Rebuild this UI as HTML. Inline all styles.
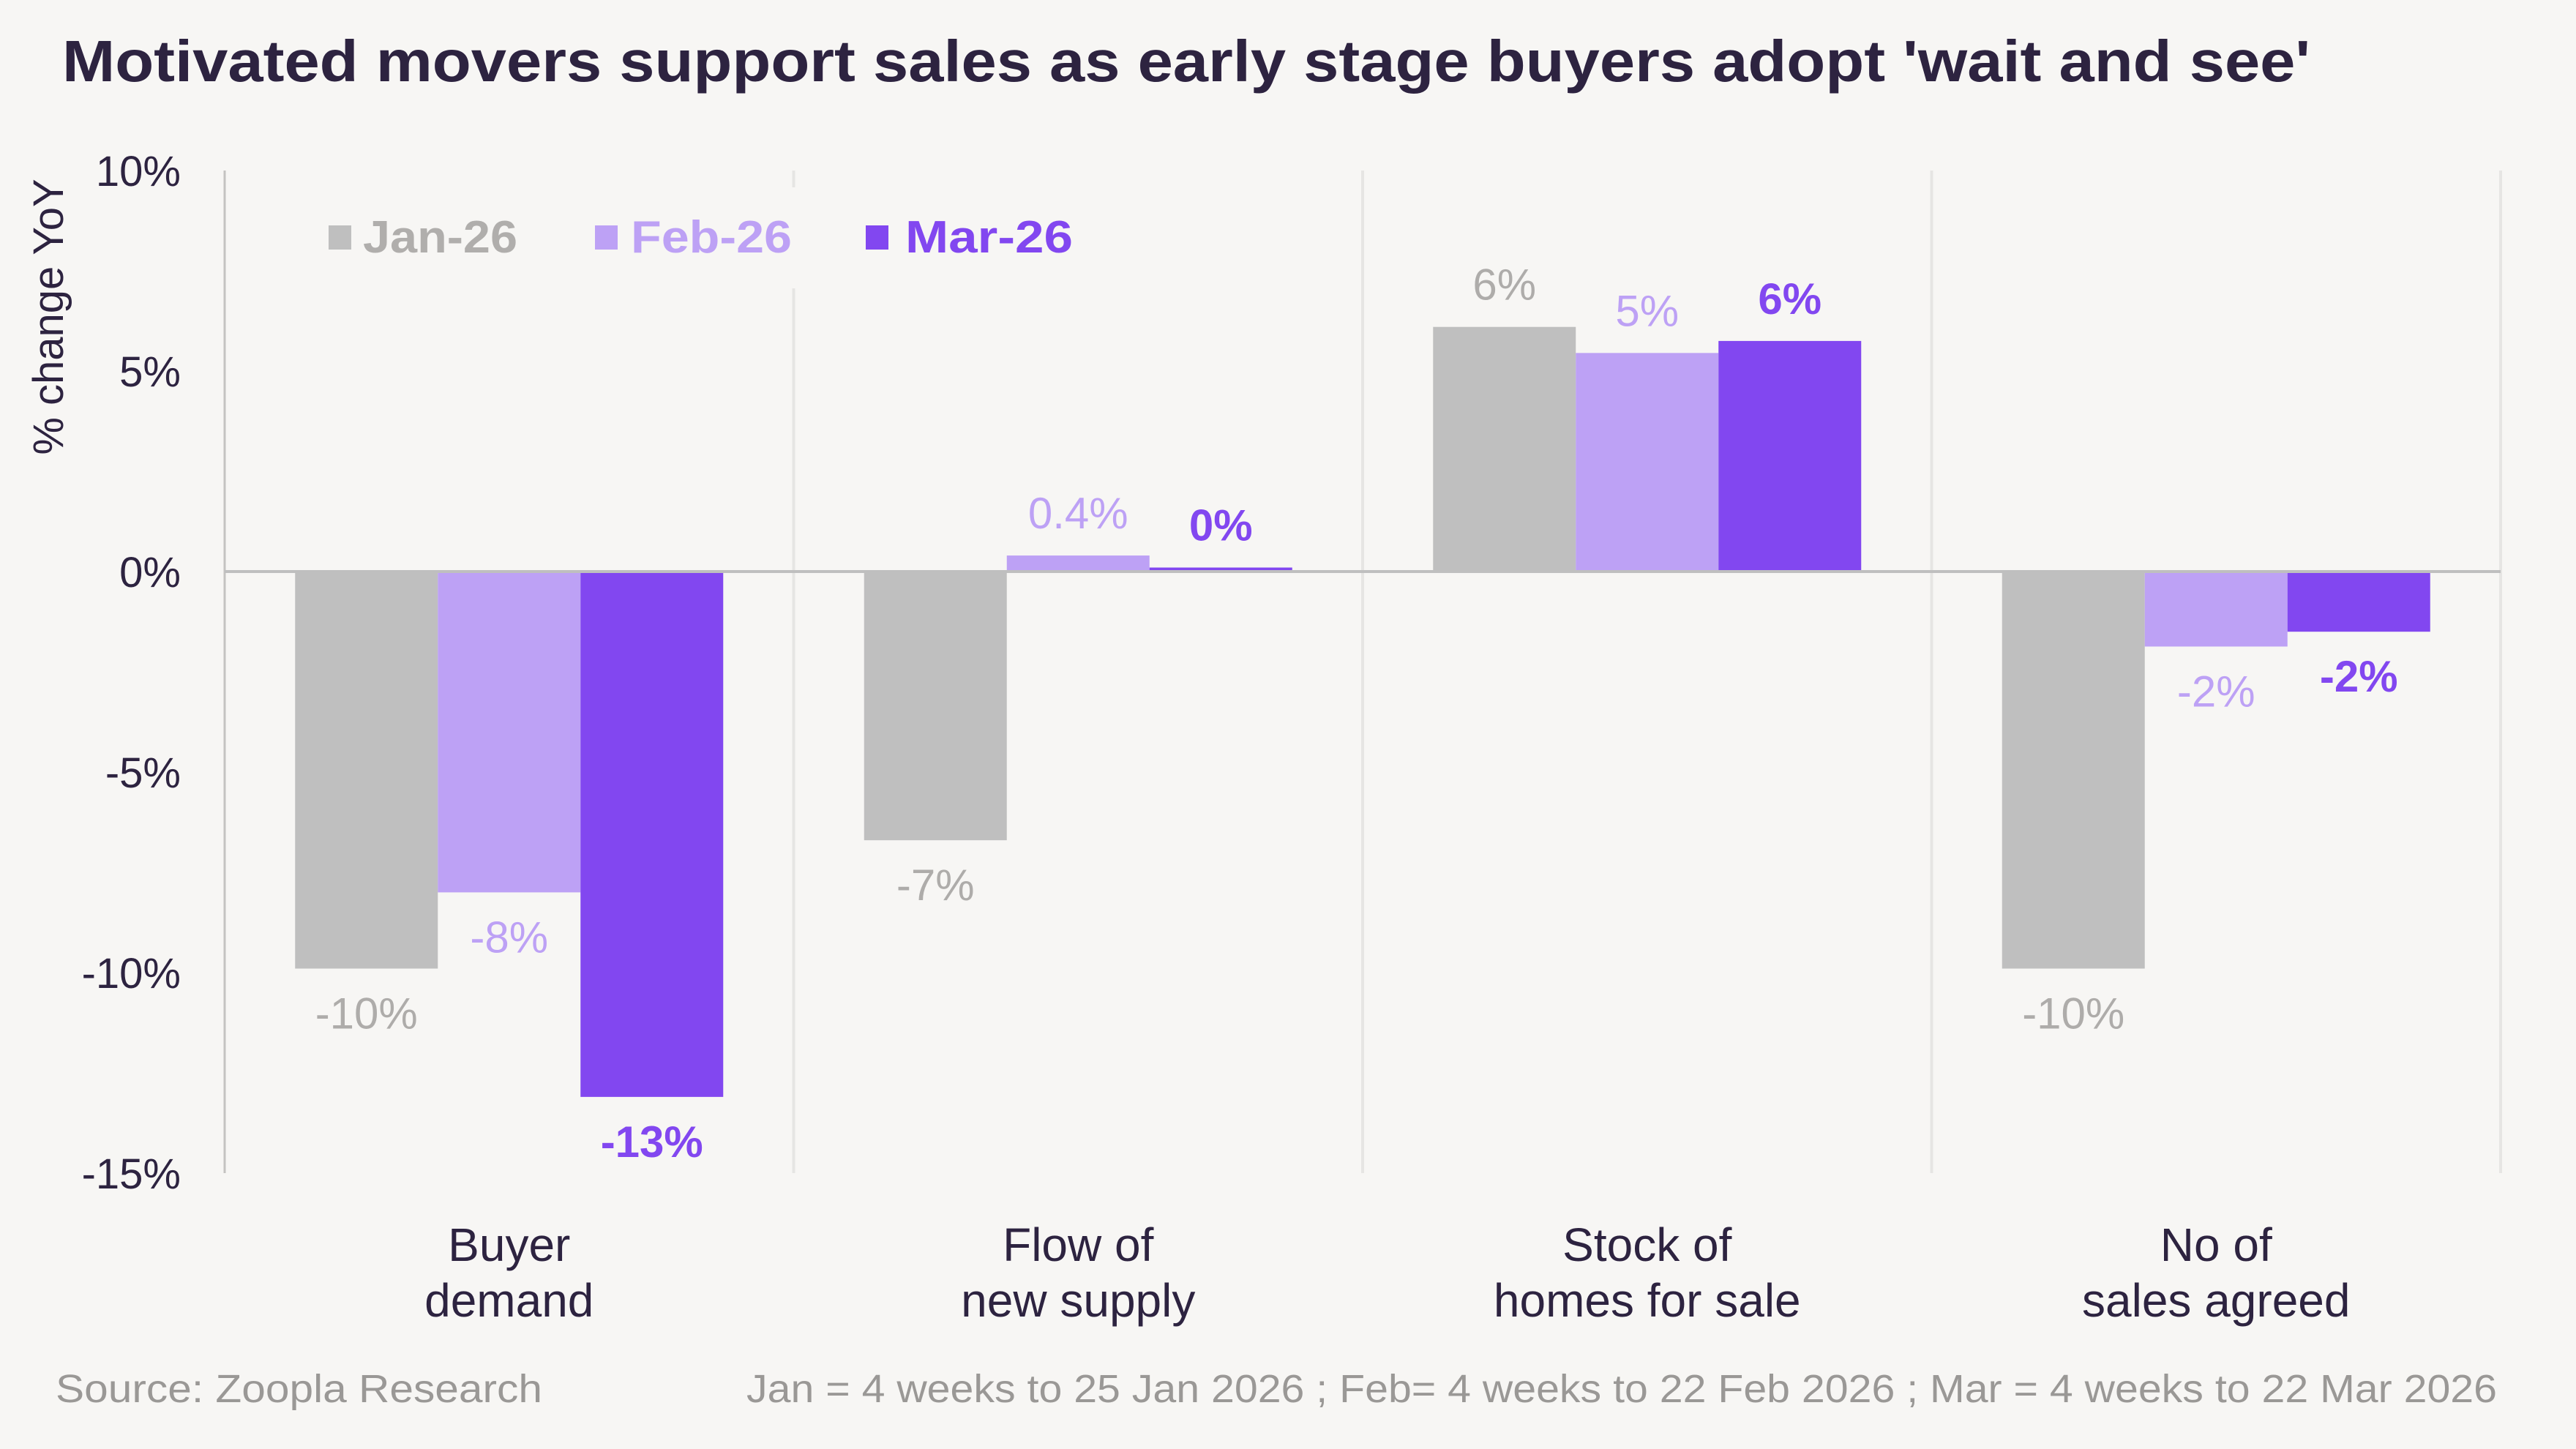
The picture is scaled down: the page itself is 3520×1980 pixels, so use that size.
<!DOCTYPE html>
<html><head><meta charset="utf-8">
<style>
html,body{margin:0;padding:0;background:#f7f6f4;}
svg{display:block;font-family:"Liberation Sans",sans-serif;}
</style></head>
<body>
<svg id="chart" width="3520" height="1980" viewBox="0 0 3520 1980" xmlns="http://www.w3.org/2000/svg">
<rect x="0" y="0" width="3520" height="1980" fill="#f7f6f4"/>
<text x="85" y="111" font-size="80" font-weight="bold" fill="#2d2340" textLength="3072" lengthAdjust="spacingAndGlyphs">Motivated movers support sales as early stage buyers adopt 'wait and see'</text>
<text transform="translate(86,433) rotate(-90)" text-anchor="middle" font-size="58" fill="#2d2340">% change YoY</text>
<g id="grid"></g>
<g id="bars"></g>
<g id="labels"></g>
<g id="legend">
<rect x="449" y="308" width="31" height="33" fill="#bfbfbf"/>
<text x="496" y="345" font-size="62" font-weight="bold" fill="#b0aeac" textLength="211" lengthAdjust="spacingAndGlyphs">Jan-26</text>
<rect x="813" y="308" width="31" height="33" fill="#bda1f5"/>
<text x="862" y="345" font-size="62" font-weight="bold" fill="#bda1f5" textLength="220" lengthAdjust="spacingAndGlyphs">Feb-26</text>
<rect x="1183" y="308" width="31" height="33" fill="#8247f0"/>
<text x="1237" y="345" font-size="62" font-weight="bold" fill="#8247f0" textLength="229" lengthAdjust="spacingAndGlyphs">Mar-26</text>
</g>
<text x="76" y="1916" font-size="54" fill="#9a9896" textLength="665" lengthAdjust="spacingAndGlyphs">Source: Zoopla Research</text>
<text x="1020" y="1916" font-size="54" fill="#9a9896" textLength="2392" lengthAdjust="spacingAndGlyphs">Jan = 4 weeks to 25 Jan 2026 ; Feb= 4 weeks to 22 Feb 2026 ; Mar = 4 weeks to 22 Mar 2026</text>
</svg>
<script>
const categories = [["Buyer","demand"],["Flow of","new supply"],["Stock of","homes for sale"],["No of","sales agreed"]];
const seriesNames = ["Jan-26","Feb-26","Mar-26"];
const janValues = [-9.9, -6.7, 6.1, -9.9];
const febValues = [-8.0, 0.4, 5.45, -1.87];
const marValues = [-13.1, 0.1, 5.75, -1.5];
const janLabels = ["-10%","-7%","6%","-10%"];
const febLabels = ["-8%","0.4%","5%","-2%"];
const marLabels = ["-13%","0%","6%","-2%"];
const yTicks = [10, 5, 0, -5, -10, -15];
const yTickLabels = ["10%","5%","0%","-5%","-10%","-15%"];

const NS = "http://www.w3.org/2000/svg";
const plotL = 307, plotR = 3417, plotT = 233, plotB = 1603;
const yMax = 10, yMin = -15;
function y(v){ return plotT + (yMax - v) / (yMax - yMin) * (plotB - plotT); }
const groupW = (plotR - plotL) / categories.length;
const barW = 195;
function x(ci, si){ return plotL + groupW * ci + groupW / 2 - barW * 1.5 + barW * si; }
function mk(tag, attrs, parent){ const e = document.createElementNS(NS, tag); for (const k in attrs) e.setAttribute(k, attrs[k]); parent.appendChild(e); return e; }

const grid = document.getElementById('grid');
const bars = document.getElementById('bars');
const labels = document.getElementById('labels');

yTicks.forEach((t, i) => {
  const el = mk('text', {x: 247, y: y(t) + 21, 'text-anchor': 'end', 'font-size': 58, fill: '#2d2340'}, grid);
  el.textContent = yTickLabels[i];
  
  
});
for (let i = 1; i <= categories.length; i++) {
  const sx = plotL + groupW * i;
  if (i === 1) {
    const a = mk('line', {x1: sx, x2: sx, y1: plotT, y2: 256, stroke: '#e6e5e3', 'stroke-width': 4}, grid);
    
    
    const b = mk('line', {x1: sx, x2: sx, y1: 394, y2: plotB, stroke: '#e6e5e3', 'stroke-width': 4}, grid);
    
    
  } else {
    const l = mk('line', {x1: sx, x2: sx, y1: plotT, y2: plotB, stroke: '#e6e5e3', 'stroke-width': 4}, grid);
    
    
  }
}
const axisL = mk('line', {x1: plotL, x2: plotL, y1: plotT, y2: plotB, stroke: '#c4c3c1', 'stroke-width': 3}, grid);



categories.forEach((c, ci) => {
  const cx = plotL + groupW * ci + groupW / 2;
  c.forEach((line, li) => {
    const t = mk('text', {x: cx, y: 1723 + li * 76, 'text-anchor': 'middle', 'font-size': 64, fill: '#2d2340'}, labels);
    t.textContent = line;
    
    
  });
});

const allValues = [janValues, febValues, marValues];
const allLabels = [janLabels, febLabels, marLabels];
const colors = ['#bfbfbf', '#bda1f5', '#8247f0'];
const textColors = ['#aeacaa', '#bda1f5', '#8247f0'];
const weights = ['normal', 'normal', 'bold'];
allValues.forEach((vals, si) => {
  vals.forEach((v, ci) => {
    const top = Math.min(y(v), y(0));
    const h = Math.abs(y(v) - y(0));
    const r = mk('rect', {x: x(ci, si), y: top, width: barW, height: Math.max(h, 2), fill: colors[si]}, bars);
    
    
    const ly = v >= 0 ? y(v) - 58 + 21 : y(v) + 61 + 21;
    const t = mk('text', {x: x(ci, si) + barW / 2, y: v >= 0 ? Math.min(ly, y(0) - 37) : ly, 'text-anchor': 'middle', 'font-size': 60, 'font-weight': weights[si], fill: textColors[si]}, labels);
    t.textContent = allLabels[si][ci];
    
    
  });
});
const zero = mk('line', {x1: plotL, x2: plotR, y1: y(0), y2: y(0), stroke: '#bfbfbf', 'stroke-width': 4}, grid.parentNode);


</script>
</body></html>
